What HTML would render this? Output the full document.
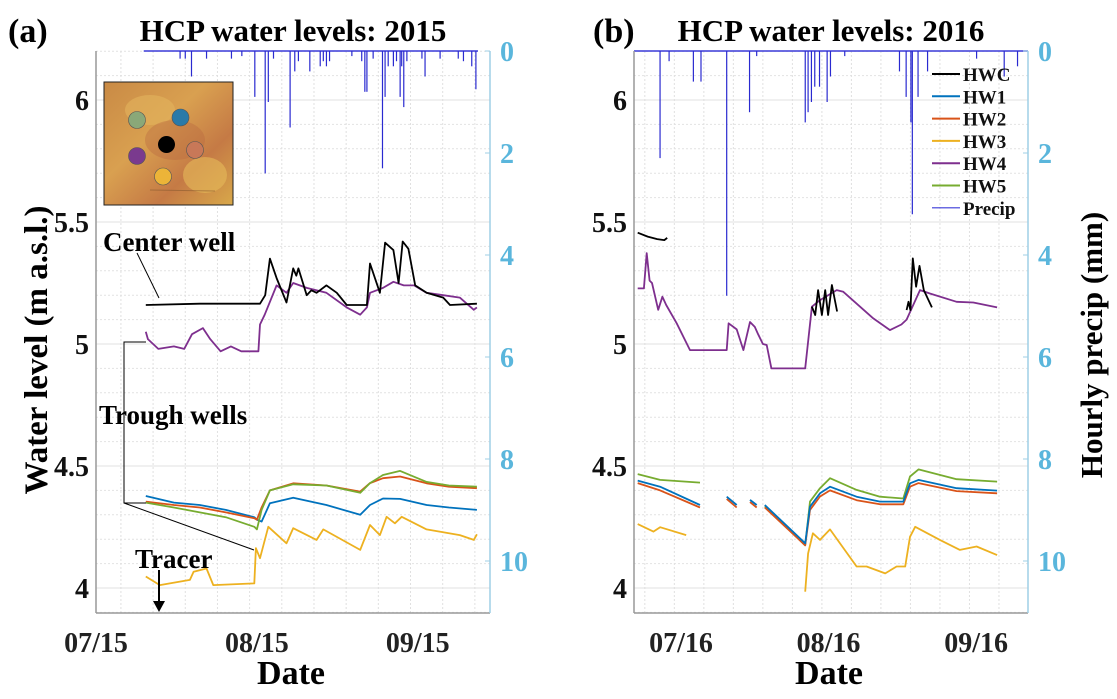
<!DOCTYPE html>
<html><head><meta charset="utf-8">
<style>
html,body{margin:0;padding:0;background:#fff;}
svg{display:block;font-family:"Liberation Serif",serif;font-weight:bold;}
</style></head>
<body>
<svg id="chart" width="1117" height="699" viewBox="0 0 1117 699" xmlns="http://www.w3.org/2000/svg">
<defs>
<clipPath id="clipA"><rect x="96" y="50" width="394" height="564"/></clipPath>
<clipPath id="clipB"><rect x="634" y="50" width="394" height="564"/></clipPath>
<linearGradient id="mapg" x1="0" y1="0" x2="1" y2="1">
<stop offset="0" stop-color="#c98a45"/><stop offset="0.4" stop-color="#d9a050"/><stop offset="0.7" stop-color="#c57a45"/><stop offset="1" stop-color="#d8a84a"/></linearGradient>
</defs>
<g id="grid"></g>
<g id="marks"></g>
<g id="axes"></g>
<g id="annot">
<text x="8" y="42" font-size="34">(a)</text>
<text x="293" y="41" font-size="31" text-anchor="middle">HCP water levels: 2015</text>
<text x="593" y="42" font-size="34">(b)</text>
<text x="831" y="41" font-size="31" text-anchor="middle">HCP water levels: 2016</text>
<text transform="translate(47,350) rotate(-90)" font-size="33" text-anchor="middle">Water level (m a.s.l.)</text>
<text transform="translate(1102,345) rotate(-90)" font-size="31" text-anchor="middle">Hourly precip (mm)</text>
<text x="291" y="684" font-size="34" text-anchor="middle">Date</text>
<text x="829" y="684" font-size="34" text-anchor="middle">Date</text>
<g>
<rect x="104" y="82" width="129" height="123" fill="url(#mapg)" stroke="#222" stroke-width="1"/>
<ellipse cx="150" cy="110" rx="25" ry="15" fill="#e2b45e" opacity="0.6"/>
<ellipse cx="205" cy="175" rx="22" ry="18" fill="#e6bb5a" opacity="0.6"/>
<ellipse cx="175" cy="140" rx="30" ry="20" fill="#b86a40" opacity="0.4"/>
<line x1="150" y1="190" x2="215" y2="191" stroke="#8a5a30" stroke-width="1" opacity="0.6"/>
<circle cx="137" cy="120" r="8.5" fill="#8aa878" stroke="#555" stroke-width="0.6"/>
<circle cx="180.5" cy="117.5" r="8.5" fill="#2a7aa8" stroke="#555" stroke-width="0.6"/>
<circle cx="166.5" cy="144.5" r="8.5" fill="#000"/>
<circle cx="195" cy="150" r="8.5" fill="#c87858" stroke="#555" stroke-width="0.6"/>
<circle cx="137" cy="156" r="8.5" fill="#7a3a8e" stroke="#555" stroke-width="0.6"/>
<circle cx="163" cy="176.5" r="8.5" fill="#ecb438" stroke="#555" stroke-width="0.6"/>
</g>
<text x="103" y="251" font-size="27">Center well</text>
<line x1="137" y1="253" x2="159" y2="298" stroke="#000" stroke-width="1"/>
<text x="99" y="424" font-size="27">Trough wells</text>
<polyline points="146,342 124,342 124,503 146,503" fill="none" stroke="#000" stroke-width="1"/>
<line x1="124" y1="503" x2="254" y2="550" stroke="#000" stroke-width="1"/>
<text x="135" y="568" font-size="27">Tracer</text>
<line x1="159" y1="570" x2="159" y2="604" stroke="#000" stroke-width="2"/>
<polygon points="153,601 165,601 159,612" fill="#000"/>
</g>
<g id="legend"></g>
</svg>
<script>
// ---- Panel A data (days since 07/15/2015) ----
var hwcDaysA=[9.6,20,31.6,32.6,33.5,34.8,36.7,38,38.6,39,40.6,41.5,42.5,44.4,46.4,48.3,52.2,52.8,54.7,55.7,57.3,58.3,59.1,60.2,61.5,63.7,66.9,68.2,73.4];
var hwcValsA=[5.16,5.165,5.165,5.2,5.35,5.27,5.17,5.31,5.28,5.31,5.2,5.22,5.21,5.24,5.21,5.16,5.16,5.33,5.21,5.415,5.385,5.25,5.42,5.39,5.24,5.21,5.19,5.16,5.165];
var hw4DaysA=[9.6,10,12,15,17,18.5,20.6,22,24,26,28,31.3,31.6,32.5,34.8,36.7,38,40.6,44.4,48.3,50.9,52.2,52.8,55.3,57.3,59.3,61.3,63.7,66.9,70.1,72.8,73.4];
var hw4ValsA=[5.05,5.02,4.98,4.99,4.98,5.04,5.065,5.02,4.97,4.99,4.97,4.97,5.08,5.12,5.24,5.21,5.25,5.23,5.21,5.15,5.12,5.15,5.21,5.23,5.255,5.24,5.24,5.21,5.20,5.19,5.14,5.15];
var troughDaysA=[9.6,15,20,25,30.5,31,31.9,33.5,38,44.4,50.9,52.8,55.3,58.6,63.7,68,73.4];
var hw1ValsA=[4.377,4.35,4.34,4.32,4.29,4.28,4.272,4.347,4.37,4.34,4.30,4.34,4.367,4.365,4.34,4.33,4.32];
var hw2ValsA=[4.354,4.34,4.33,4.31,4.286,4.28,4.33,4.40,4.429,4.42,4.395,4.43,4.45,4.457,4.429,4.415,4.409];
var hw5ValsA=[4.35,4.33,4.31,4.29,4.251,4.24,4.32,4.40,4.425,4.42,4.39,4.43,4.463,4.48,4.435,4.42,4.415];
var hw3DaysA=[9.6,12.3,18.1,18.8,21.3,22.6,30.5,30.8,31.6,33.2,36.7,38,42.5,43.8,50.9,52.8,54.7,56.0,57.6,58.9,63.7,70.1,72.8,73.4];
var hw3ValsA=[4.047,4.012,4.033,4.067,4.08,4.012,4.019,4.163,4.122,4.251,4.183,4.245,4.197,4.24,4.156,4.258,4.217,4.292,4.265,4.292,4.24,4.217,4.197,4.22];
var precipDaysA=[16.2,17.2,18.4,21.3,26.1,28.1,30.6,32.6,33.2,34.2,37.4,38.3,39.0,41.2,43.2,43.8,44.4,45.0,49.3,51.2,51.8,52.2,53.4,55.2,55.7,56.3,57.3,57.9,58.6,58.9,59.3,59.9,62.8,63.4,66.3,69.8,70.8,72.4,73.2];
var precipMmA=[0.15,0.15,0.5,0.15,0.15,0.1,0.9,2.4,1.0,0.15,1.5,0.4,0.2,0.4,0.3,0.2,0.3,0.2,0.1,0.2,0.8,0.8,0.15,2.3,0.9,0.3,0.3,0.2,0.9,0.3,1.1,0.2,0.15,0.5,0.15,0.15,0.2,0.3,0.75];
// ---- Panel B data (days since 07/16/2016) ----
var hwcSeg1DaysB=[-9.1,-7,-5,-3.5,-2.9];
var hwcSeg1ValsB=[5.456,5.44,5.43,5.426,5.435];
var hwcSeg2DaysB=[27.5,28.2,28.8,29.6,30.3,30.9,31.7,32.8];
var hwcSeg2ValsB=[5.153,5.119,5.221,5.119,5.221,5.119,5.242,5.133];
var hwcSeg3DaysB=[47.4,47.8,48.2,48.7,49.4,50.1,51,52.7];
var hwcSeg3ValsB=[5.139,5.173,5.139,5.351,5.235,5.32,5.221,5.15];
var hw4DaysB=[-9.1,-7.8,-7.2,-6.6,-6.1,-4.8,-3.9,-3.1,-0.9,1.9,9.6,10.0,11.7,13.1,14.5,15.5,16.2,17.2,18.0,19.0,26.1,27.5,29.2,32.7,34.1,40.4,43.9,46.3,47.4,50.2,52.3,57.9,61.4,66.4];
var hw4ValsB=[5.228,5.228,5.372,5.26,5.25,5.14,5.194,5.16,5.085,4.975,4.975,5.085,5.06,4.975,5.09,5.07,5.04,5.0,4.996,4.90,4.90,5.153,5.18,5.221,5.214,5.105,5.057,5.08,5.10,5.221,5.207,5.173,5.17,5.15];
var troughDaysB=[-9.1,-4.4,4.0,null,9.6,11.7,null,14.5,15.9,null,17.6,26.1,27.1,29.2,31.3,36.9,41.8,46.7,48.1,49.9,57.9,66.4];
var hw1ValsB=[4.44,4.415,4.34,null,4.374,4.34,null,4.361,4.34,null,4.34,4.183,4.333,4.388,4.415,4.374,4.354,4.354,4.429,4.443,4.409,4.399];
var hw2ValsB=[4.43,4.40,4.33,null,4.365,4.33,null,4.352,4.33,null,4.33,4.175,4.32,4.375,4.40,4.36,4.343,4.343,4.415,4.43,4.397,4.388];
var hw5ValsB=[4.467,4.443,4.432,null,null,null,null,null,null,null,4.335,4.175,4.354,4.409,4.450,4.402,4.374,4.367,4.457,4.486,4.446,4.436];
var hw3DaysB=[-9.1,-5.8,-4.4,1.1,null,26.1,26.7,27.7,29.2,31.3,36.9,39.0,42.9,45.3,47.1,48.1,49.2,54.4,58.6,62.1,66.4];
var hw3ValsB=[4.262,4.231,4.249,4.217,null,3.985,4.142,4.224,4.197,4.24,4.088,4.088,4.06,4.088,4.088,4.21,4.251,4.197,4.156,4.17,4.135];
var precipDaysB=[-4.4,-2.5,2.6,4.2,9.6,14.4,15.9,26.1,26.7,27.4,28.1,29.1,30.7,31.4,34.4,45.9,47.3,48.3,48.6,49.8,51.8,62.1,67.9,70.7];
var precipMmB=[2.1,0.2,0.6,0.6,4.8,1.2,0.1,1.4,1.2,1.0,0.7,0.7,1.0,0.5,0.1,0.4,0.9,1.4,3.2,0.9,0.4,0.15,0.5,0.3];
var leftTicks=[4,4.5,5,5.5,6];
var rightTicks=[0,2,4,6,8,10];
var xTickDaysA=[0,31,62], xTickLabelsA=["07/15","08/15","09/15"];
var xTickDaysB=[0,31,62], xTickLabelsB=["07/16","08/16","09/16"];
var legendNames=["HWC","HW1","HW2","HW3","HW4","HW5","Precip"];
var legendColors=["#000000","#0072BD","#D95319","#EDB120","#7E2F8E","#77AC30","#3a3ad8"];

var NS="http://www.w3.org/2000/svg";
function xA(d){return 96+d*5.19;}
function xB(d){return 681+d*4.76;}
function yW(v){return 100+(6-v)*244;}
function yP(mm){return 51+mm*51;}
function mk(tag,attrs,parent){var e=document.createElementNS(NS,tag);for(var k in attrs)e.setAttribute(k,attrs[k]);parent.appendChild(e);return e;}
var grid=document.getElementById('grid'),marks=document.getElementById('marks'),axes=document.getElementById('axes'),legend=document.getElementById('legend');

function drawGrid(x0,x1,xfn,majors){
  var v;
  for(v=3.9;v<=6.21;v+=0.1){var y=yW(v);if(y<51||y>613)continue;
    var maj=Math.abs(v*2-Math.round(v*2))<0.01;
    var l=mk('line',{x1:x0,x2:x1,y1:y,y2:y,stroke:maj?'#e0e0e0':'#e2e2e2','stroke-width':1,'stroke-dasharray':maj?'':'2,2'},grid);
    
    }
  for(var d=-20;d<90;d+=31/5){var x=xfn(d);if(x<=x0+1||x>=x1)continue;
    var mj=majors.some(function(m){return Math.abs(m-d)<0.01;});
    var l2=mk('line',{x1:x,x2:x,y1:51,y2:613,stroke:'#e0e0e0','stroke-width':1,'stroke-dasharray':mj?'':'2,2'},grid);
    
    }
}
drawGrid(96,490,xA,[0,31,62]);
drawGrid(634,1028,xB,[0,31,62]);

function line(days,vals,xfn,color,clip,name,w){
  var segs=[],cur=[];
  for(var i=0;i<days.length;i++){
    if(days[i]===null||vals[i]===null){if(cur.length)segs.push(cur);cur=[];continue;}
    cur.push(xfn(days[i]).toFixed(1)+','+yW(vals[i]).toFixed(1));}
  if(cur.length)segs.push(cur);
  segs.forEach(function(s){
    var p=mk('polyline',{points:s.join(' '),fill:'none',stroke:color,'stroke-width':w||1.8,'stroke-linejoin':'round','clip-path':'url(#'+clip+')'},marks);
    
    });
}
function precip(days,mm,xfn,x0,x1,clip,name){
  var b=mk('line',{x1:x0,x2:x1,y1:51,y2:51,stroke:'#3a3ad8','stroke-width':1.5},marks);
  
  
  for(var i=0;i<days.length;i++){var x=xfn(days[i]);
    var s=mk('line',{x1:x,x2:x,y1:51,y2:yP(mm[i]),stroke:'#2a2ad0','stroke-width':1.2,'clip-path':'url(#'+clip+')'},marks);
    
    }
}
precip(precipDaysA,precipMmA,xA,xA(9.2),xA(73.6),'clipA','precip-a');
line(hw4DaysA,hw4ValsA,xA,'#7E2F8E','clipA','hw4-line-a');
line(hwcDaysA,hwcValsA,xA,'#000000','clipA','hwc-line-a');
line(troughDaysA,hw1ValsA,xA,'#0072BD','clipA','hw1-line-a');
line(troughDaysA,hw2ValsA,xA,'#D95319','clipA','hw2-line-a');
line(troughDaysA,hw5ValsA,xA,'#77AC30','clipA','hw5-line-a');
line(hw3DaysA,hw3ValsA,xA,'#EDB120','clipA','hw3-line-a');
precip(precipDaysB,precipMmB,xB,634,1028,'clipB','precip-b');
line(hw4DaysB,hw4ValsB,xB,'#7E2F8E','clipB','hw4-line-b');
line(hwcSeg1DaysB,hwcSeg1ValsB,xB,'#000000','clipB','hwc-line-b');
line(hwcSeg2DaysB,hwcSeg2ValsB,xB,'#000000','clipB','hwc-line-b');
line(hwcSeg3DaysB,hwcSeg3ValsB,xB,'#000000','clipB','hwc-line-b');
line(troughDaysB,hw5ValsB,xB,'#77AC30','clipB','hw5-line-b');
line(troughDaysB,hw2ValsB,xB,'#D95319','clipB','hw2-line-b');
line(troughDaysB,hw1ValsB,xB,'#0072BD','clipB','hw1-line-b');
line(hw3DaysB,hw3ValsB,xB,'#EDB120','clipB','hw3-line-b');

function drawAxes(x0,x1,xfn,tickDays,tickLabels,sfx){
  var a1=mk('line',{x1:x0,x2:x0,y1:51,y2:613,stroke:'#999','stroke-width':1.5},axes);
  
  
  var a2=mk('line',{x1:x0,x2:x1,y1:613,y2:613,stroke:'#999','stroke-width':1.5},axes);
  
  
  var a3=mk('line',{x1:x1,x2:x1,y1:51,y2:613,stroke:'#9fcfe6','stroke-width':1.5},axes);
  
  
  leftTicks.forEach(function(v){
    var t=mk('text',{x:x0-7,y:yW(v)+10,'font-size':28,'text-anchor':'end',fill:'#111'},axes);t.textContent=String(v);
    
    });
  rightTicks.forEach(function(v){
    var t=mk('text',{x:x1+10,y:yP(v)+10,'font-size':28,fill:'#5ab6dc'},axes);t.textContent=String(v);
    
    
    var tk=mk('line',{x1:x1-5,x2:x1,y1:yP(v),y2:yP(v),stroke:'#9fcfe6'},axes);
    
    });
  tickDays.forEach(function(d,i){
    var t=mk('text',{x:xfn(d),y:652,'font-size':28,'text-anchor':'middle',fill:'#222'},axes);t.textContent=tickLabels[i];
    
    });
}
drawAxes(96,490,xA,xTickDaysA,xTickLabelsA,'a');
drawAxes(634,1028,xB,xTickDaysB,xTickLabelsB,'b');

legendNames.forEach(function(n,i){
  var y=74+i*22.3;
  var l=mk('line',{x1:932,x2:960,y1:y,y2:y,stroke:legendColors[i],'stroke-width':i==6?1.2:2},legend);
  
  
  var t=mk('text',{x:963,y:y+7,'font-size':19,fill:'#111'},legend);t.textContent=n;
  
  
});
</script>
</body></html>
